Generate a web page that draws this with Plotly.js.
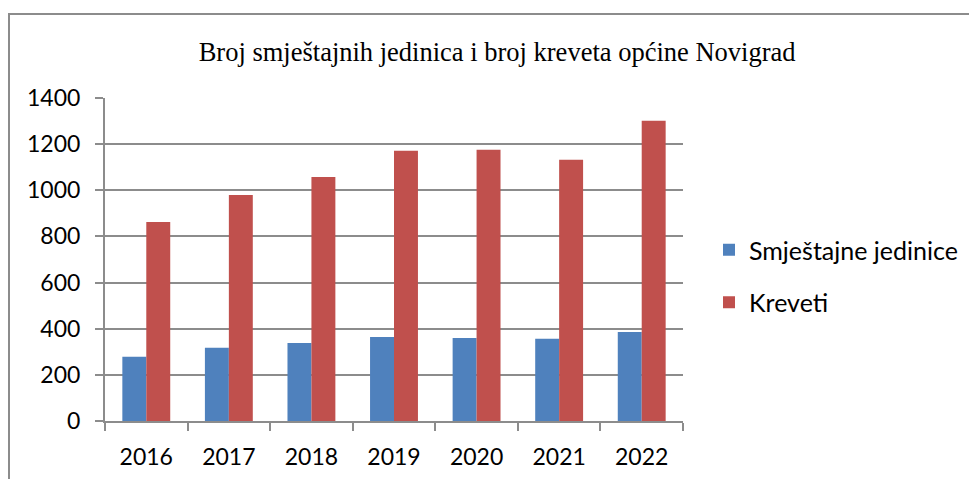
<!DOCTYPE html>
<html>
<head>
<meta charset="utf-8">
<script src="https://cdn.plot.ly/plotly-3.0.1.min.js"></script>
<style>
html,body{margin:0;padding:0;background:#fff;}
#wrap{position:relative;width:969px;height:479px;}
#chart{width:969px;height:479px;}
#frame{position:absolute;left:8px;top:13px;right:-4px;bottom:-4px;border-left:2px solid #8c8c8c;border-top:2px solid #8c8c8c;pointer-events:none;}
</style>
</head>
<body>
<div id="wrap"><div id="chart"></div><div id="frame"></div></div>
<script>
const years = ['2016','2017','2018','2019','2020','2021','2022'];
const smjestajneJedinice = [278, 317, 338, 364, 360, 356, 386];
const kreveti = [863, 980, 1058, 1171, 1176, 1132, 1301];
const seriesNames = ['Smještajne jedinice', 'Kreveti'];
const chartTitle = 'Broj smještajnih jedinica i broj kreveta općine Novigrad';

const gridColor = '#8c8c8c';
const data = [
  {type:'bar', x:years, y:smjestajneJedinice, name:seriesNames[0], marker:{color:'#4F81BD'}, legendgroup:'a', hoverinfo:'x+y'},
  {type:'bar', x:years, y:kreveti, name:seriesNames[1], marker:{color:'#C0504D'}, legendgroup:'b', hoverinfo:'x+y'}
];
const layout = {
  width:969, height:479,
  margin:{l:105, r:286, t:98, b:58, pad:0, autoexpand:false},
  paper_bgcolor:'#fff', plot_bgcolor:'#fff',
  barmode:'group', bargap:0.42, bargroupgap:0,
  title:{text:chartTitle, font:{family:'Liberation Serif, Times New Roman, serif', size:26.5, color:'#000'},
         xref:'container', x:0.513, xanchor:'center', yref:'container', y:1-52/479, yanchor:'middle'},
  font:{family:'Lato, Carlito, Calibri, sans-serif', color:'#000'},
  xaxis:{type:'category', showline:true, linecolor:gridColor, linewidth:2, ticks:'outside', tickson:'boundaries',
         ticklen:8, tickwidth:2, tickcolor:gridColor, tickfont:{size:23, color:'#000'}, ticklabelstandoff:14, showgrid:false, fixedrange:true},
  yaxis:{range:[0,1400], dtick:200, tick0:0, showline:true, linecolor:gridColor, linewidth:2, ticks:'outside',
         ticklen:8, tickwidth:2, tickcolor:gridColor, showgrid:true, gridcolor:gridColor, gridwidth:2,
         zeroline:false, tickfont:{size:23, color:'#000'}, ticklabelstandoff:10, fixedrange:true},
  showlegend:true,
  legend:{x:(709-105)/578, xanchor:'left', y:(421-227)/323, yanchor:'top', traceorder:'grouped', tracegroupgap:17,
          font:{size:25, color:'#000'}, itemwidth:30, bgcolor:'rgba(0,0,0,0)'}
};
Plotly.newPlot('chart', data, layout, {displayModeBar:false, staticPlot:true});
</script>
</body>
</html>
